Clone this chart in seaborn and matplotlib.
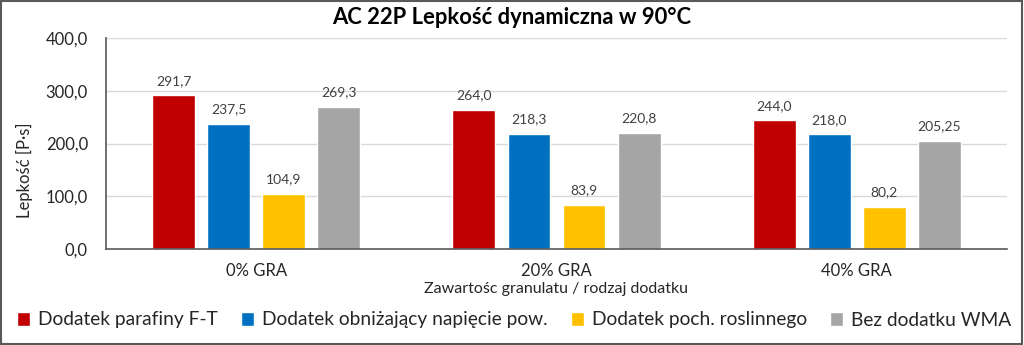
import matplotlib
matplotlib.use("Agg")
import matplotlib.pyplot as plt
from matplotlib.patches import Rectangle
from matplotlib.ticker import FuncFormatter
import pandas as pd
import seaborn as sns

groups = ["0% GRA", "20% GRA", "40% GRA"]
series = ["Dodatek parafiny F-T", "Dodatek obniżający napięcie pow.",
          "Dodatek poch. roslinnego", "Bez dodatku WMA"]
parafina = [291.7, 264.0, 244.0]
obnizajacy = [237.5, 218.3, 218.0]
roslinny = [104.9, 83.9, 80.2]
bez_wma = [269.3, 220.8, 205.25]
colors = ["#C00000", "#0070C0", "#FFC000", "#A5A5A5"]

rows = []
for name, vals in zip(series, [parafina, obnizajacy, roslinny, bez_wma]):
    for g, v in zip(groups, vals):
        rows.append({"grupa": g, "dodatek": name, "lepkosc": v})
df = pd.DataFrame(rows)

sns.set_theme(style="white")
plt.rcParams["font.family"] = ["Lato", "DejaVu Sans"]

fig = plt.figure(figsize=(10.24, 3.45), dpi=100)
ax = fig.add_axes([106 / 1024, 1 - 249 / 345, 901 / 1024, 211 / 345])

sns.barplot(data=df, x="grupa", y="lepkosc", hue="dodatek", order=groups,
            hue_order=series, palette=colors, width=0.733, gap=0.22,
            saturation=1, ax=ax, legend=True)


def fmt(v):
    s = f"{v:.2f}".rstrip("0")
    if s.endswith("."):
        s += "0"
    return s.replace(".", ",")


for cont, vals in zip(ax.containers, [parafina, obnizajacy, roslinny, bez_wma]):
    ax.bar_label(cont, labels=[fmt(v) for v in vals], padding=6,
                 fontsize=10, color="#404040")

ax.set_ylim(0, 400)
ax.set_yticks([0, 100, 200, 300, 400])
ax.yaxis.set_major_formatter(FuncFormatter(lambda v, p: f"{v:.1f}".replace(".", ",")))
ax.set_xlim(-0.5, 2.5)
ax.grid(axis="y", color="#D9D9D9", linewidth=1)
ax.set_axisbelow(True)
for side in ["top", "right"]:
    ax.spines[side].set_visible(False)
for side in ["left", "bottom"]:
    ax.spines[side].set_color("#595959")
    ax.spines[side].set_linewidth(1.2)
ax.tick_params(axis="both", labelsize=12, length=0)
ax.tick_params(axis="y", pad=13)
ax.tick_params(axis="x", pad=10)
for t in ax.get_xticklabels() + ax.get_yticklabels():
    t.set_color("#262626")

ax.set_xlabel("Zawartośc granulatu / rodzaj dodatku", fontsize=11.5,
              color="#262626", labelpad=2)
ax.set_ylabel("Lepkość [P·s]", fontsize=12, color="#262626")
ax.yaxis.set_label_coords(-(106 - 33) / 901, (249 - 170) / 211)

fig.text(0.5, 1 - 18 / 345, "AC 22P Lepkość dynamiczna w 90°C", ha="center",
         va="center", fontsize=15.8, fontweight="bold", color="#000000")

handles, labels = ax.get_legend_handles_labels()
ax.get_legend().remove()
fig.legend(handles, labels, loc="center", bbox_to_anchor=(0.502, 1 - 320 / 345),
           ncol=4, frameon=False, fontsize=13.8, handlelength=0.7,
           handleheight=0.7, handletextpad=0.4, columnspacing=1.2,
           labelcolor="#262626")

fig.patches.append(Rectangle((0.001, 0.002), 0.997, 0.995, transform=fig.transFigure,
                             fill=False, edgecolor="#595959", linewidth=1.5))

fig.savefig("out.png", dpi=100)
